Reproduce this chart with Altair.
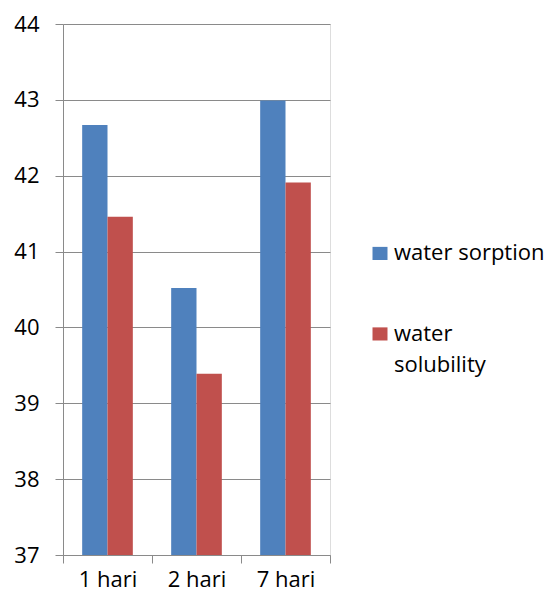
import altair as alt
import pandas as pd

categories = ["1 hari", "2 hari", "7 hari"]
series_names = ["water sorption", "water solubility"]
water_sorption = [42.67, 40.52, 42.99]
water_solubility = [41.46, 39.39, 41.91]
y_ticks = [37, 38, 39, 40, 41, 42, 43, 44]
colors = ["#4F81BD", "#C0504D"]

rows = []
for i, c in enumerate(categories):
    rows.append({"cat": c, "series": series_names[0], "value": water_sorption[i]})
    rows.append({"cat": c, "series": series_names[1], "value": water_solubility[i]})
df = pd.DataFrame(rows)

FONT = "Open Sans"
GRID = "#8a8a8a"

chart = alt.Chart(df).mark_bar(clip=True).encode(
    x=alt.X("cat:N", sort=categories, title=None,
            scale=alt.Scale(paddingInner=0, paddingOuter=0),
            axis=alt.Axis(labelAngle=0, tickBand="extent", tickSize=8,
                          labelPadding=6, domainColor=GRID, tickColor=GRID,
                          labelFont=FONT, labelFontSize=22, labelColor="#000000",
                          grid=False)),
    xOffset=alt.XOffset("series:N", sort=series_names,
                        scale=alt.Scale(paddingInner=0, paddingOuter=0.757)),
    y=alt.Y("value:Q", title=None,
            scale=alt.Scale(domain=[37, 44], zero=False, nice=False),
            axis=alt.Axis(values=y_ticks, tickSize=8, labelPadding=16,
                          domainColor=GRID, tickColor=GRID, gridColor=GRID,
                          gridOpacity=1, labelFont=FONT, labelFontSize=22,
                          labelColor="#000000", format="d")),
    color=alt.Color("series:N", sort=series_names,
                    scale=alt.Scale(domain=series_names, range=colors),
                    legend=alt.Legend(title=None, orient="none",
                                      legendX=306, legendY=225,
                                      symbolType="M-1,-1.75H1V0H-1Z",
                                      symbolSize=225, symbolStrokeWidth=0,
                                      symbolOpacity=1, labelOffset=3,
                                      labelBaseline="alphabetic",
                                      labelFont=FONT, labelFontSize=22,
                                      labelColor="#000000", labelLimit=300,
                                      rowPadding=58.5, padding=0,
                                      labelExpr="datum.label == 'water solubility' ? ['water', 'solubility'] : datum.label")),
).properties(
    width=267,
    height=531,
    padding={"left": 55, "top": 16, "right": 218, "bottom": 38},
    autosize=alt.AutoSizeParams(type="none"),
).configure_view(
    stroke=None
).configure(
    style={"guide-label": {"lineHeight": 31}}
)

chart.save("out.html", embed_options={"renderer": "svg", "actions": False})
